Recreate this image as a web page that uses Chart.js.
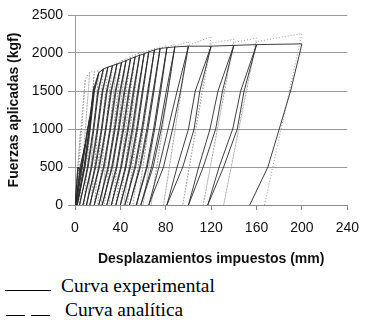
<!DOCTYPE html>
<html><head><meta charset="utf-8">
<script src="https://cdn.jsdelivr.net/npm/chart.js@4"></script>
<style>
body{margin:0;background:#fff;width:369px;height:330px;overflow:hidden;position:relative;}
#wrap{position:absolute;left:0;top:0;width:369px;height:272px;}
.lg{position:absolute;font-family:"Liberation Serif","Times New Roman",serif;font-size:18px;color:#000;white-space:nowrap;line-height:20px;transform:scaleX(1.08);transform-origin:0 0;}
.ln{position:absolute;height:0;border-top:1.6px solid #000;}
</style></head><body>
<div id="wrap"><canvas id="c" width="369" height="272"></canvas></div>
<div class="ln" style="left:5px;top:290px;width:46px"></div>
<div class="lg" style="left:61px;top:276px">Curva experimental</div>
<div class="ln" style="left:6px;top:315px;width:19px"></div>
<div class="ln" style="left:31px;top:315px;width:19px"></div>
<div class="lg" style="left:65px;top:300px">Curva analítica</div>
<script>
// ---- Experimental curve (kgf vs mm) ----
// peak of each cycle
const expPeakX = [5, 9, 13, 17, 21, 25, 29, 33, 37, 41, 45, 49, 53, 57, 61, 65, 70, 75, 81, 88, 100, 120, 140, 160, 200];
const expPeakY = [450, 800, 1150, 1560, 1740, 1790, 1815, 1835, 1855, 1875, 1900, 1925, 1950, 1970, 1990, 2015, 2040, 2060, 2070, 2080, 2090, 2090, 2100, 2110, 2120];
// unloading branch: x read at 1500, 1000 and 500 kgf, residual x at 0 kgf
const expUn1500X = [null, null, null, 16.5, 17.2, 20.8, 24.6, 28.4, 32.2, 36.2, 40.2, 44, 48, 52, 56, 60, 64.8, 69.6, 75.6, 82, 93, 110, 130, 149, 190];
const expUn1000X = [null, null, 11.5, 12.8, 13.4, 16.6, 20.2, 23.8, 27.4, 31.4, 35.4, 39, 43, 47, 51, 55, 59.6, 64.2, 70.2, 76, 86, 105, 124, 143, 180];
const expUn500X  = [3, 5, 6.5, 8.5, 8.8, 11.6, 14.9, 18.3, 21.6, 25.6, 29.6, 33, 37, 41, 45, 49, 53.4, 57.7, 63.7, 68.8, 78, 95, 113, 131, 170];
const expResidX  = [0, 0.5, 1, 1.5, 2, 4, 7, 10, 13, 17, 21, 24, 28, 32, 36, 40, 44, 48, 54, 58, 65, 81, 100, 117, 154];
// reloading branch: x read at 500, 1000 and 1500 kgf
const expRe500X  = [2.5, 4.5, 6, 8, 8.3, 11, 14.3, 17.6, 21, 25, 29, 32.3, 36.3, 40.3, 44.3, 48.3, 52.6, 57, 63, 67.5, 74, 90, 109, 127, null];
const expRe1000X = [null, null, 11, 12.3, 12.8, 16, 19.5, 23.2, 26.8, 30.8, 34.7, 38.3, 42.3, 46.3, 50.3, 54.3, 58.8, 63.3, 69.3, 74.5, 82, 100, 119, 139, null];
const expRe1500X = [null, null, null, 16, 16.6, 20.2, 24, 27.8, 31.6, 35.5, 39.5, 43.3, 47.3, 51.3, 55.3, 59.3, 64, 68.8, 74.6, 80.5, 90, 106, 126, 146, null];

// ---- Analytical curve ----
const anaPeakX   = [5, 9, 13, 17, 21, 25, 29, 33, 37, 41, 45, 49, 53, 57, 61, 65, 70, 75, 81, 88, 100, 120, 140, 160, 200];
const anaPeakY   = [1000, 1650, 1750, 1755, 1765, 1785, 1810, 1840, 1870, 1900, 1930, 1960, 1980, 2000, 2020, 2040, 2060, 2080, 2095, 2110, 2150, 2215, 2180, 2195, 2255];
const anaResidX  = [0, 1, 4, 8, 11, 14, 17, 20, 23, 26, 30, 33, 36, 40, 43, 46, 51, 55, 60, 67, 78, 95, 113, 131, 167];
// force reached again at the peak displacement after reloading
const anaReloadY = [1000, 1650, 1750, 1750, 1760, 1775, 1800, 1830, 1860, 1890, 1920, 1950, 1970, 1990, 2010, 2030, 2050, 2065, 2080, 2090, 2100, 2130, 2140, 2150, null];

const xTicks = [0, 40, 80, 120, 160, 200, 240];
const yTicks = [0, 500, 1000, 1500, 2000, 2500];

function add(arr, x, y) { if (x !== null && x !== undefined) arr.push({x: x, y: y}); }
const expPts = [{x: 0, y: 0}];
for (let i = 0; i < expPeakX.length; i++) {
  add(expPts, expPeakX[i], expPeakY[i]);
  add(expPts, expUn1500X[i], 1500);
  add(expPts, expUn1000X[i], 1000);
  add(expPts, expUn500X[i], 500);
  add(expPts, expResidX[i], 0);
  if (i < expPeakX.length - 1) {
    add(expPts, expRe500X[i], 500);
    add(expPts, expRe1000X[i], 1000);
    add(expPts, expRe1500X[i], 1500);
    add(expPts, expPeakX[i], expPeakY[i]);
  }
}
const anaPts = [{x: 0, y: 0}];
for (let i = 0; i < anaPeakX.length; i++) {
  add(anaPts, anaPeakX[i], anaPeakY[i]);
  add(anaPts, anaResidX[i], 0);
  if (anaReloadY[i] !== null) add(anaPts, anaPeakX[i], anaReloadY[i]);
}

const SANS = "'Liberation Sans', Arial, sans-serif";
new Chart(document.getElementById('c'), {
  type: 'scatter',
  data: { datasets: [
    {label: 'Curva experimental', data: expPts, showLine: true, borderColor: '#2a2a2a', borderWidth: 0.9, pointRadius: 0, fill: false, tension: 0},
    {label: 'Curva analítica', data: anaPts, showLine: true, borderColor: '#9a9a9a', borderWidth: 1, borderDash: [1, 2], pointRadius: 0, fill: false, tension: 0}
  ]},
  options: {
    responsive: false, animation: false, devicePixelRatio: 1,
    layout: {padding: {left: 0, right: 18, top: 15, bottom: 0}},
    plugins: {legend: {display: false}, tooltip: {enabled: false}},
    scales: {
      x: {
        type: 'linear', min: 0, max: 240,
        afterBuildTicks: s => { s.ticks = xTicks.map(v => ({value: v})); },
        ticks: {padding: 10, color: '#111', font: {family: SANS, size: 14}, callback: v => String(v)},
        grid: {drawOnChartArea: false, drawTicks: true, tickLength: 5, color: '#888'},
        border: {color: '#888'},
        title: {display: true, text: 'Desplazamientos impuestos (mm)', color: '#111', font: {family: SANS, size: 14, weight: 'bold'}, padding: {top: 0, bottom: 4}},
        afterFit: s => { s.height = 67; }
      },
      y: {
        type: 'linear', min: 0, max: 2500,
        afterBuildTicks: s => { s.ticks = yTicks.map(v => ({value: v})); },
        ticks: {padding: 5, color: '#111', font: {family: SANS, size: 14}, callback: v => String(v)},
        grid: {color: '#999', tickLength: 7},
        border: {color: '#999'},
        title: {display: true, text: 'Fuerzas aplicadas (kgf)', color: '#111', font: {family: SANS, size: 14, weight: 'bold'}, padding: {top: 6, bottom: 0}},
        afterFit: s => { s.width = 75; }
      }
    }
  }
});
</script>
</body></html>
